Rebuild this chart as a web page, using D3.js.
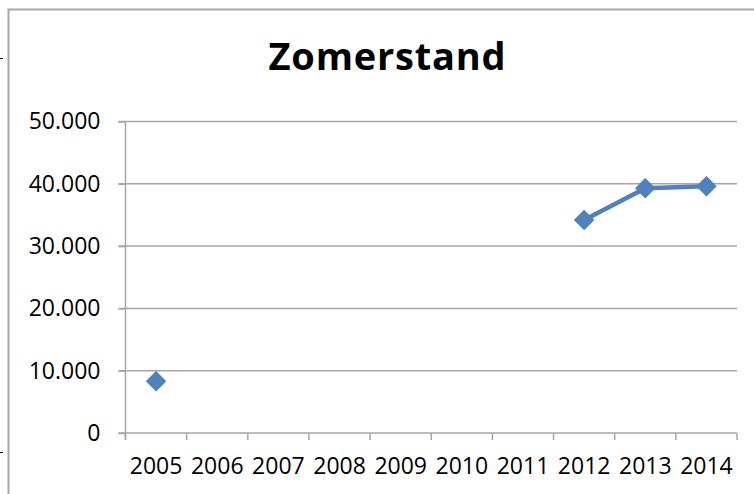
<!DOCTYPE html>
<html>
<head>
<meta charset="utf-8">
<script src="https://cdn.jsdelivr.net/npm/d3@7"></script>
<style>
  body { margin: 0; background: #fff; }
  svg { display: block; font-family: "Open Sans", sans-serif; }
</style>
</head>
<body>
<svg width="754" height="494"></svg>
<script>
// data
const years = ["2005", "2006", "2007", "2008", "2009", "2010", "2011", "2012", "2013", "2014"];
const zomerstand = [8300, null, null, null, null, null, null, 34200, 39300, 39600];
const yTicks = [0, 10000, 20000, 30000, 40000, 50000];

const svg = d3.select("svg");
const width = 754, height = 494;
const margin = {top: 121.5, right: 17, bottom: 61, left: 125.5};

// outer frame (only left and top edges visible)
svg.append("path")
  .attr("d", "M8.5,494V9.5H754")
  .attr("fill", "none")
  .attr("stroke", "#a6a6a6")
  .attr("stroke-width", 2);

// stray marks at far left
svg.append("line").attr("x1", 0).attr("x2", 3).attr("y1", 58.5).attr("y2", 58.5).attr("stroke", "#000");
svg.append("line").attr("x1", 0).attr("x2", 3).attr("y1", 452.5).attr("y2", 452.5).attr("stroke", "#000");

const x = d3.scaleBand()
  .domain(years)
  .range([margin.left, width - margin.right]);

const y = d3.scaleLinear()
  .domain([0, 50000])
  .range([height - margin.bottom, margin.top]);

const fmt = v => v === 0 ? "0" : d3.format(",")(v).replace(/,/g, ".");

// gridlines
svg.append("g")
  .selectAll("line")
  .data(yTicks.filter(d => d > 0))
  .enter()
  .append("line")
  .attr("x1", margin.left - 7)
  .attr("x2", width - margin.right)
  .attr("y1", d => y(d))
  .attr("y2", d => y(d))
  .attr("stroke", "#a6a6a6")
  .attr("stroke-width", 1.5);

// y axis
const yAxis = svg.append("g")
  .attr("transform", `translate(${margin.left},0)`)
  .call(d3.axisLeft(y).tickValues(yTicks).tickFormat(fmt).tickSize(7).tickPadding(18));
yAxis.select(".domain").attr("stroke", "#a6a6a6").attr("stroke-width", 1.5).attr("d", `M0,${y(50000)}V${y(0) + 7}`);
yAxis.selectAll(".tick line").attr("stroke", "#a6a6a6").attr("stroke-width", 1.5);
yAxis.selectAll("text").attr("font-size", 23).attr("fill", "#000").attr("font-family", "Open Sans");

// x axis
const xAxis = svg.append("g")
  .attr("transform", `translate(0,${height - margin.bottom})`)
  .call(d3.axisBottom(x).tickSize(0).tickPadding(25));
xAxis.select(".domain").attr("stroke", "#a6a6a6").attr("stroke-width", 1.5)
  .attr("d", `M${margin.left - 7},0H${width - margin.right}`);
xAxis.selectAll("text").attr("font-size", 23).attr("fill", "#000").attr("font-family", "Open Sans");
// category boundary ticks
xAxis.append("g")
  .selectAll("line")
  .data(years.concat(["end"]))
  .enter()
  .append("line")
  .attr("x1", (d, i) => margin.left + i * x.step())
  .attr("x2", (d, i) => margin.left + i * x.step())
  .attr("y1", 0)
  .attr("y2", 7)
  .attr("stroke", "#a6a6a6")
  .attr("stroke-width", 1.5);

// series
const pts = years.map((yr, i) => ({year: yr, value: zomerstand[i]}));
const line = d3.line()
  .defined(d => d.value != null)
  .x(d => x(d.year) + x.bandwidth() / 2)
  .y(d => y(d.value));

svg.append("path")
  .datum(pts)
  .attr("d", line)
  .attr("fill", "none")
  .attr("stroke", "#4f81bd")
  .attr("stroke-width", 4.5)
  .attr("stroke-linejoin", "round");

svg.append("g")
  .selectAll("path")
  .data(pts.filter(d => d.value != null))
  .enter()
  .append("path")
  .attr("d", d3.symbol().type(d3.symbolSquare).size(200))
  .attr("transform", d => `translate(${x(d.year) + x.bandwidth() / 2},${y(d.value)}) rotate(45)`)
  .attr("fill", "#4f81bd")
  .attr("stroke", "#4a7ab5")
  .attr("stroke-width", 0.5);

// title
svg.append("text")
  .attr("x", 387.5)
  .attr("y", 70)
  .attr("text-anchor", "middle")
  .attr("font-size", 38)
  .attr("font-weight", "bold")
  .attr("letter-spacing", 0.8)
  .text("Zomerstand");
</script>
</body>
</html>
